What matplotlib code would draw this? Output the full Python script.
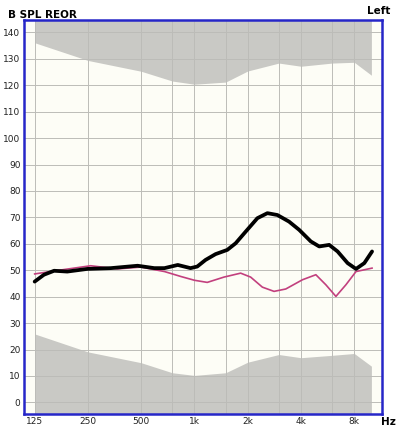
import matplotlib.pyplot as plt
import numpy as np

# frequencies / limits of the gray "out of range" areas
band_freq = [125, 250, 500, 750, 1000, 1500, 2000, 3000, 4000, 6000, 8000, 10000]
upper_db = [136.1, 129.4, 125.3, 121.6, 120.4, 121.2, 125.4, 128.4, 127.2, 128.4, 128.7, 123.8]
lower_db = [25.9, 19.1, 15.0, 11.2, 10.2, 11.2, 15.2, 18.1, 16.9, 17.8, 18.5, 13.7]

# measured curve (black)
meas_freq = [125, 141, 161, 191, 248, 337, 477, 593, 677, 805, 950, 1037, 1155,
             1316, 1533, 1709, 1947, 2268, 2583, 2942, 3425, 3905, 4547, 5071,
             5776, 6442, 7339, 8184, 9120, 10086]
meas_db = [45.7, 48.3, 49.8, 49.5, 50.5, 50.8, 51.7, 50.8, 50.8, 52.0, 50.8, 51.4, 53.9,
           56.1, 57.7, 60.2, 64.6, 69.7, 71.6, 70.9, 68.4, 65.3, 60.9, 59.0,
           59.6, 57.1, 52.7, 50.5, 52.7, 57.1]

# target curve (pink)
targ_freq = [125, 168, 259, 368, 499, 677, 841, 1000, 1181, 1467, 1824, 2078,
             2420, 2817, 3281, 4078, 4855, 5528, 6302, 7178, 8184, 10086]
targ_db = [48.6, 49.9, 51.7, 50.5, 51.2, 49.5, 47.6, 46.2, 45.4, 47.4, 48.9, 47.4,
           43.6, 42.0, 42.9, 46.4, 48.3, 44.5, 40.1, 44.5, 49.5, 50.8]

xticks = [125, 250, 500, 1000, 2000, 4000, 8000]
xticklabels = ['125', '250', '500', '1k', '2k', '4k', '8k']
xgrid = [125, 250, 500, 750, 1000, 1500, 2000, 3000, 4000, 6000, 8000]
yticks = list(range(0, 150, 10))


def main():
    fig = plt.figure(figsize=(4.0, 4.32), dpi=100)
    ax = fig.add_axes([0.06, 0.0417, 0.895, 0.912])
    ax.set_facecolor('#fdfdf6')
    ax.set_xscale('log')
    ax.set_xlim(108.8, 11480)
    ax.set_ylim(-4.4, 144.7)

    gray = '#c9c9c5'
    ax.fill_between(band_freq, upper_db, 150, color=gray, lw=0, zorder=1)
    ax.fill_between(band_freq, -10, lower_db, color=gray, lw=0, zorder=1)

    for f in xgrid:
        ax.axvline(f, color='#bcbcb8', lw=0.7, zorder=2)
    for y in yticks:
        ax.axhline(y, color='#bcbcb8', lw=0.7, zorder=2)

    ax.plot(targ_freq, targ_db, color='#c2407e', lw=1.2, zorder=3,
            solid_joinstyle='round')
    ax.plot(meas_freq, meas_db, color='black', lw=2.7, zorder=4,
            solid_joinstyle='round', solid_capstyle='round')

    ax.set_xticks(xticks)
    ax.set_xticklabels(xticklabels)
    ax.minorticks_off()
    ax.set_yticks(yticks)
    ax.tick_params(length=0, labelsize=6.5, colors='#222222')
    ax.tick_params(axis='y', pad=2.5)
    ax.tick_params(axis='x', pad=2.5)
    for s in ax.spines.values():
        s.set_color('#2626c8')
        s.set_linewidth(1.8)

    fig.text(0.02, 0.965, 'B SPL REOR', fontsize=7.5, fontweight='bold',
             ha='left', va='center')
    fig.text(0.975, 0.975, 'Left', fontsize=7.5, fontweight='bold',
             ha='right', va='center')
    fig.text(0.972, 0.022, 'Hz', fontsize=7.5, fontweight='bold',
             ha='center', va='center')

    fig.savefig('out.png', dpi=100)


if __name__ == "__main__":
    main()
